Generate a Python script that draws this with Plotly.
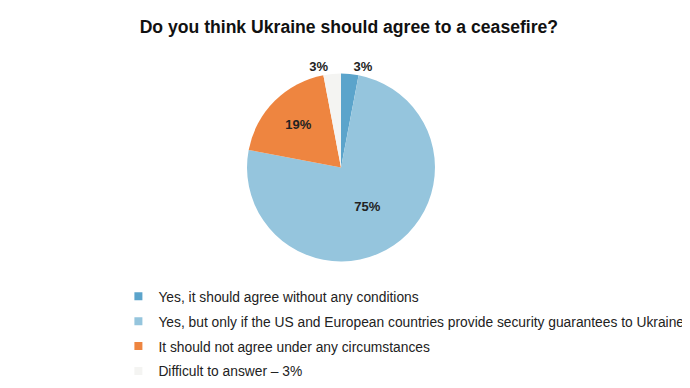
import plotly.graph_objects as go

title = "Do you think Ukraine should agree to a ceasefire?"
categories = [
    "Yes, it should agree without any conditions",
    "Yes, but only if the US and European countries provide security guarantees to Ukraine",
    "It should not agree under any circumstances",
    "Difficult to answer – 3%",
]
values = [3, 75, 19, 3]
slice_text = ["3%", "75%", "19%", "3%"]
colors = ["#5ba4cb", "#95c5dd", "#ee8540", "#f4f4f2"]
text_pos = ["outside", "inside", "inside", "outside"]

fig = go.Figure()
fig.add_trace(go.Pie(
    labels=categories, values=values, text=slice_text, textinfo="text",
    textposition=text_pos, sort=False, direction="clockwise", rotation=0,
    marker=dict(colors=colors, line=dict(width=0)),
    textfont=dict(family="Liberation Sans, Arial", size=13, color="#222222", weight="bold"),
    insidetextorientation="horizontal", showlegend=False, hoverinfo="label+percent",
    domain=dict(x=[0.3464, 0.6188], y=[0.3466, 0.8312]),
))
for i, (c, col) in enumerate(zip(categories, colors)):
    fig.add_trace(go.Scatter(
        x=[None], y=[None], mode="markers", name=c, legendgroup=str(i),
        marker=dict(symbol="square", size=8, color=col),
    ))

fig.update_layout(
    width=690, height=388,
    margin=dict(l=0, r=0, t=0, b=0),
    paper_bgcolor="white", plot_bgcolor="white",
    title=dict(text="<b>" + title + "</b>", x=0.494, xanchor="center", y=0.951, yanchor="middle",
               font=dict(family="Liberation Sans, Arial", size=17.6, color="#111111")),
    xaxis=dict(visible=False), yaxis=dict(visible=False),
    legend=dict(orientation="v", x=0.160, xanchor="left", y=0.297, yanchor="top",
                font=dict(family="Liberation Sans, Arial", size=13.8, color="#222222"),
                tracegroupgap=4, itemwidth=30, bgcolor="rgba(0,0,0,0)"),
)
fig.write_html("out.html")
